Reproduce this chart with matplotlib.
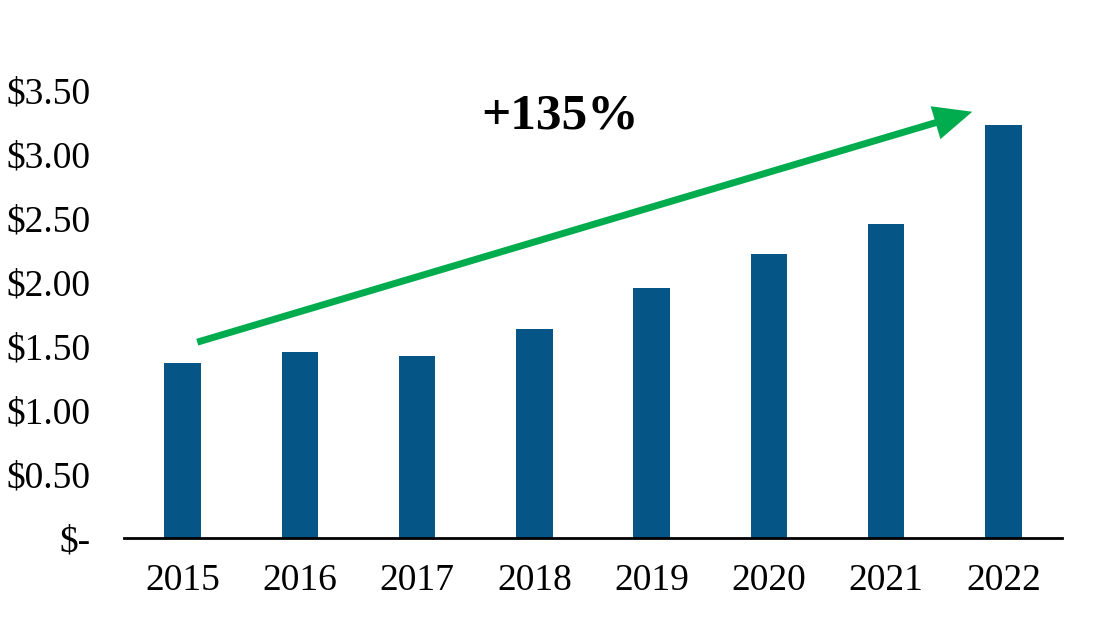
import matplotlib
matplotlib.use("Agg")
from matplotlib import pyplot as plt
import numpy as np

years = ["2015", "2016", "2017", "2018", "2019", "2020", "2021", "2022"]
values = [1.37, 1.45, 1.42, 1.63, 1.95, 2.22, 2.45, 3.23]
y_ticks = [0, 0.5, 1.0, 1.5, 2.0, 2.5, 3.0, 3.5]
y_labels = ["$-", "$0.50", "$1.00", "$1.50", "$2.00", "$2.50", "$3.00", "$3.50"]
growth_label = "+135%"

plt.rcParams['font.family'] = ['Liberation Serif', 'DejaVu Serif']

fig = plt.figure(figsize=(11.03, 6.19), dpi=100)
ax = fig.add_axes([124 / 1103, 1 - 538 / 619, (1062 - 124) / 1103, (538 - 90) / 619])

x = np.arange(len(years))
ax.bar(x, values, width=0.31, color="#065587", zorder=2)

ax.set_xlim(-0.5, 7.5)
ax.set_ylim(0, 3.5)
ax.set_xticks(x)
ax.set_xticklabels(years, fontsize=27)
ax.set_yticks(y_ticks)
ax.set_yticklabels(y_labels, fontsize=27)
ax.tick_params(axis='both', length=0)
ax.tick_params(axis='x', pad=18)
ax.tick_params(axis='y', pad=24)

for side in ['top', 'right', 'left']:
    ax.spines[side].set_visible(False)
ax.spines['bottom'].set_linewidth(2)
ax.spines['bottom'].set_color('black')

# growth arrow
ax.annotate("", xy=(6.735, 3.33), xytext=(0.125, 1.53),
            arrowprops=dict(arrowstyle="-|>,head_length=1.9,head_width=0.85",
                            color="#00AC4E", lw=5, shrinkA=0, shrinkB=0,
                            capstyle='butt', joinstyle='miter'),
            annotation_clip=False, zorder=3)
ax.text(3.22, 3.29, growth_label, fontsize=37, fontweight='bold',
        ha='center', va='center')

fig.savefig("out.png", dpi=100)
